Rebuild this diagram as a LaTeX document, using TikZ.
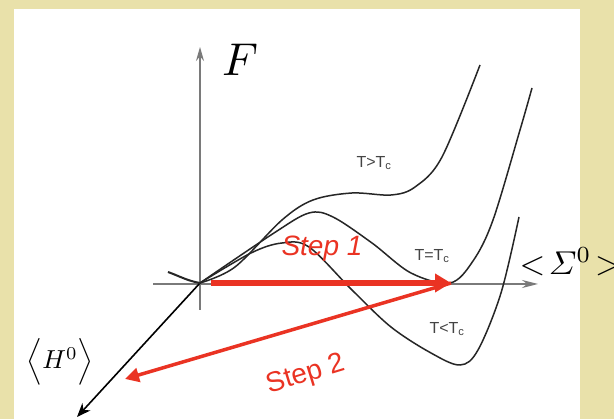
\documentclass[tikz,border=0pt]{standalone}
\usepackage{amsmath}
\usepackage{fontspec}
\newfontfamily\lsans{Liberation Sans}
\usetikzlibrary{arrows.meta}
\definecolor{bgk}{HTML}{E9E1AA}
\definecolor{redarrow}{HTML}{EA3323}
\definecolor{axisgray}{HTML}{7A7A7A}
\definecolor{tgray}{HTML}{444444}
\begin{document}
\begin{tikzpicture}[x=1pt,y=-1pt,
  axisline/.style={draw=axisgray,line width=1.4pt},
  curve/.style={draw=black!85,line width=1.5pt,smooth,tension=0.55},
  tlabel/.style={text=tgray,font=\lsans\fontsize{16}{17}\selectfont,inner sep=0pt},
  steplabel/.style={text=redarrow,inner sep=0pt},
  mathlabel/.style={inner sep=0pt}]
\useasboundingbox (0,0) rectangle (614,419);
\clip (0,0) rectangle (614,419);
\fill[bgk] (0,0) rectangle (614,419);
\fill[white] (14,9) rectangle (580,419);
% coordinates
\coordinate (O) at (200,283);
\coordinate (vtop) at (200,47);
\coordinate (vbot) at (200,310);
\coordinate (hl) at (153,284);
\coordinate (hr) at (538,284);
\coordinate (dtip) at (77,417);
\coordinate (s1a) at (211,283);
\coordinate (s1b) at (451,283);
\coordinate (s2b) at (125,379);
\coordinate (lefta) at (168,272);
% axes
\draw[axisline,-{Stealth[length=14pt,width=8pt]}] (vbot) -- (vtop);
\draw[axisline,-{Stealth[length=16pt,width=8pt]}] (hl) -- (hr);
\draw[black,line width=1.6pt,-{Stealth[length=14pt,width=11pt]}] (O) -- (dtip);
% curves
\draw[line width=2pt,black!85] (lefta) to[out=-20,in=170] (O);
\draw[curve] plot coordinates {(200,283) (235,267) (282,220) (313,200) (352,193) (391,195) (415,187) (442,157) (480,65)};
\draw[curve] plot coordinates {(200,283) (274,233) (309,213) (333,217) (372,243) (411,273) (450,283) (473,261) (493,220) (520,130) (532,88)};
\draw[curve] plot coordinates {(200,283) (251,253) (282,243) (309,247) (352,290) (391,327) (431,353) (460,365) (478,350) (501,293) (519,217)};
% labels
\node[mathlabel,scale=4.6] (F) at (240,60) {$F$};
\node[mathlabel,scale=3.3,anchor=west] (Sig) at (519,262) {$<\!\varSigma^0\!>$};
\node[mathlabel,scale=2.6] (H) at (60,362) {$\Big\langle H^0\Big\rangle$};
\node[tlabel] (tgt) at (374,163) {T>T\textsubscript{c}};
\node[tlabel] (teq) at (432,256) {T=T\textsubscript{c}};
\node[tlabel] (tlt) at (447,329) {T<T\textsubscript{c}};
% red steps
\draw[redarrow,line width=6pt,-{Triangle[length=16pt,width=18pt]}] (s1a) -- (s1b);
\draw[redarrow,line width=3.5pt,-{Triangle[length=14pt,width=14pt]}] (s1b) -- (s2b);
\node[steplabel,font=\lsans\itshape\fontsize{28}{30}\selectfont] (st1) at (322,249) {Step 1};
\node[steplabel,font=\lsans\fontsize{28}{30}\selectfont,rotate=17] (st2) at (306,375) {Step 2};
\end{tikzpicture}
\end{document}
